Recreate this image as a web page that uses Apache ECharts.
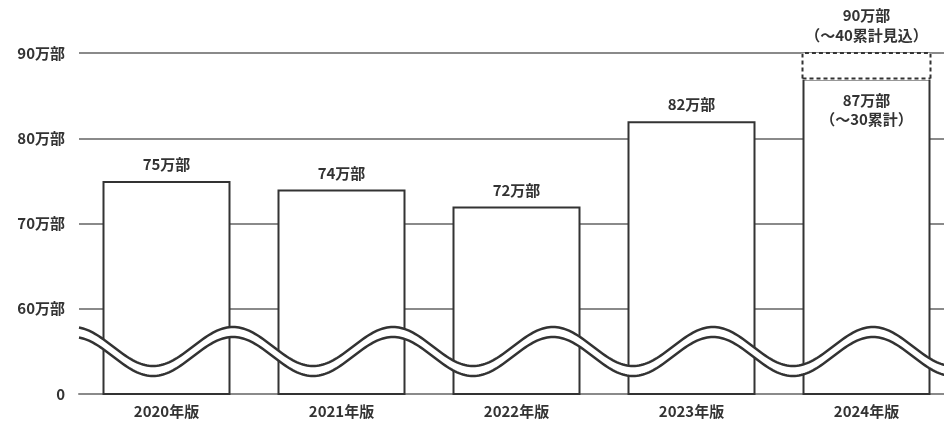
<!DOCTYPE html>
<html><head><meta charset="utf-8">
<script src="https://cdn.jsdelivr.net/npm/echarts@6/dist/echarts.min.js"></script>
<style>html,body{margin:0;padding:0;background:#fff;overflow:hidden}#c{width:954px;height:428px}</style>
</head><body><div id="c"></div>
<script>
// ---- data ----
const categories = ['2020年版','2021年版','2022年版','2023年版','2024年版'];
const actualValues = [75, 74, 72, 82, 87];              // 万部
const actualLabels = ['75万部','74万部','72万部','82万部','87万部\n（～30累計）'];
const projectedValues = [null, null, null, null, 90];    // 見込
const projectedLabels = ['', '', '', '', '90万部\n（～40累計見込）'];
const yTickValues = [50, 60, 70, 80, 90];                // 50 = broken-axis "0"
const yTickLabels = ['0', '60万部', '70万部', '80万部', '90万部'];

const FONT = '"Noto Sans CJK JP", sans-serif';
const TXT = '#333';
const BAR_W = 128;

const chart = echarts.init(document.getElementById('c'), null, {renderer: 'canvas'});

const projData = projectedValues.map((v, i) => v == null ? null : [i, actualValues[i], v]).filter(Boolean);

chart.setOption({
  animation: false,
  grid: {left: 79, top: 53, right: 0, bottom: 34, containLabel: false},
  xAxis: {
    type: 'category', data: categories,
    axisLine: {show: true, lineStyle: {color: '#8a8a8a', width: 2}},
    axisTick: {show: false},
    axisLabel: {color: TXT, fontFamily: FONT, fontSize: 15, fontWeight: 'bold', margin: 10}
  },
  yAxis: {
    type: 'value', min: 50, max: 90, interval: 10,
    axisLine: {show: false}, axisTick: {show: false},
    splitLine: {show: true, lineStyle: {color: '#8a8a8a', width: 2}},
    axisLabel: {
      color: TXT, fontFamily: FONT, fontSize: 15, fontWeight: 'bold', margin: 14,
      formatter: v => yTickLabels[yTickValues.indexOf(v)]
    }
  },
  series: [
    {
      type: 'bar', clip: true, barWidth: BAR_W, z: 2,
      data: actualValues.map((v, i) => ({
        value: v,
        label: i === 4 ? {position: 'insideTop', distance: 12, lineHeight: 19} : {}
      })),
      itemStyle: {color: '#fff', borderColor: '#333', borderWidth: 2},
      label: {
        show: true, position: 'top', distance: 9,
        formatter: p => actualLabels[p.dataIndex],
        color: TXT, fontFamily: FONT, fontSize: 15, fontWeight: 'bold'
      }
    },
    {
      type: 'custom', z: 3,
      data: projData,
      renderItem: function (params, api) {
        const idx = api.value(0);
        const pLow = api.coord([idx, api.value(1)]);
        const pHigh = api.coord([idx, api.value(2)]);
        const x0 = pLow[0] - BAR_W / 2, x1 = pLow[0] + BAR_W / 2;
        const yL = pLow[1], yH = pHigh[1];
        const dash = {stroke: '#333', lineWidth: 2, lineDash: [4, 3], fill: null};
        return {
          type: 'group',
          children: [
            {type: 'rect', shape: {x: x0 - 1, y: yH, width: BAR_W + 2, height: yL - yH + 1.5},
             style: {fill: '#fff', stroke: null}},
            {type: 'polyline', shape: {points: [[x0, yL], [x0, yH], [x1, yH], [x1, yL]]}, style: dash},
            {type: 'line', shape: {x1: x0, y1: yL, x2: x1, y2: yL}, style: dash},
            {type: 'text', x: pLow[0], y: yH - 8,
             style: {text: projectedLabels[idx], fill: TXT, font: 'bold 15px ' + FONT,
                     align: 'center', verticalAlign: 'bottom', lineHeight: 20}}
          ]
        };
      }
    },
    {
      type: 'custom', z: 5, silent: true,
      data: [[0, 50]],
      renderItem: function (params, api) {
        const cs = params.coordSys;
        const bottom = cs.y + cs.height;
        const yc = bottom - 47.5, A = 19.5, gap = 10, P = 160;
        const peakX = cs.x - 6;
        const up = [], lo = [];
        for (let px = cs.x; px <= cs.x + cs.width; px += 2) {
          const y = yc - A * Math.cos(2 * Math.PI * (px - peakX) / P);
          up.push([px, y]);
          lo.push([px, y + gap]);
        }
        const band = up.concat(lo.slice().reverse());
        const st = {stroke: '#333', lineWidth: 2.5, fill: null};
        return {
          type: 'group',
          children: [
            {type: 'polygon', shape: {points: band}, style: {fill: '#fff', stroke: null}},
            {type: 'polyline', shape: {points: up}, style: st},
            {type: 'polyline', shape: {points: lo}, style: st}
          ]
        };
      }
    }
  ]
});
</script>
</body></html>
